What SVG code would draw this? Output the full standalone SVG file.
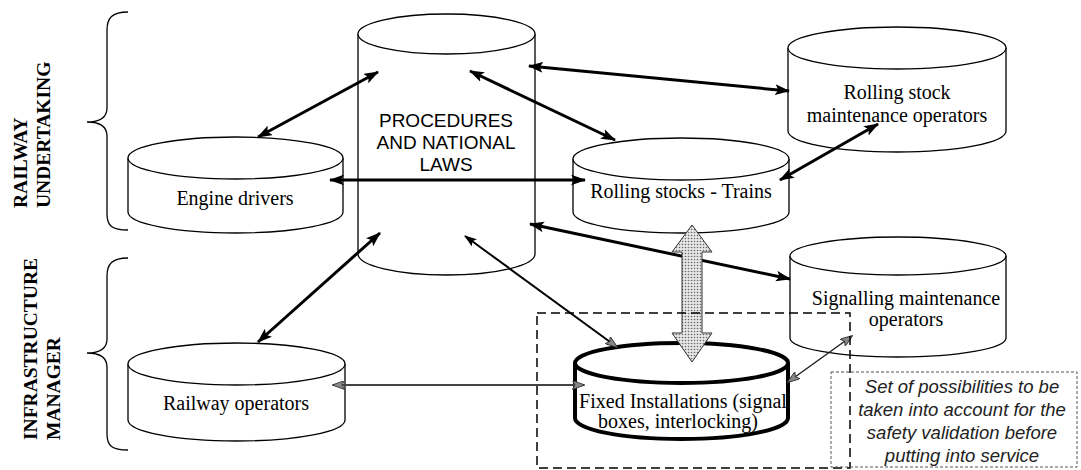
<svg xmlns="http://www.w3.org/2000/svg" width="1081" height="470" viewBox="0 0 1081 470">
<style>
.cyl{fill:#fff;stroke:#000;stroke-width:1.3}
.cylb{fill:#fff;stroke:#000;stroke-width:4}
.serif{font-family:"Liberation Serif","Times New Roman",serif;font-size:20px;fill:#000;text-anchor:middle}
.sans{font-family:"Liberation Sans",Arial,sans-serif;font-size:19px;fill:#000;text-anchor:middle}
.side{font-family:"Liberation Serif","Times New Roman",serif;font-size:19.5px;font-weight:bold;fill:#000}
.note{font-family:"Liberation Sans",Arial,sans-serif;font-size:18.5px;font-style:italic;fill:#222;text-anchor:middle}
.thick{stroke:#000;stroke-width:3;fill:none;marker-start:url(#ah);marker-end:url(#ah)}
.mid{stroke:#000;stroke-width:2;fill:none;marker-start:url(#ah2);marker-end:url(#ahg)}
.grey{stroke:#444;stroke-width:2;fill:none;marker-start:url(#ahg);marker-end:url(#ahg)}
.thin{stroke:#222;stroke-width:1.5;fill:none;marker-start:url(#ahg);marker-end:url(#ahg)}
.brace{fill:none;stroke:#000;stroke-width:1.3}
</style>
<defs>
<marker id="ah" viewBox="0 0 14 10" refX="13" refY="5" markerWidth="15" markerHeight="11" markerUnits="userSpaceOnUse" orient="auto-start-reverse"><path d="M0,0 L14,5 L0,10 L3,5 Z" fill="#000"/></marker>
<marker id="ah2" viewBox="0 0 14 10" refX="13" refY="5" markerWidth="13" markerHeight="9" markerUnits="userSpaceOnUse" orient="auto-start-reverse"><path d="M0,0 L14,5 L0,10 L3,5 Z" fill="#000"/></marker>
<marker id="ahg" viewBox="0 0 14 10" refX="13" refY="5" markerWidth="13" markerHeight="9" markerUnits="userSpaceOnUse" orient="auto-start-reverse"><path d="M0,0 L14,5 L0,10 L3,5 Z" fill="#888" stroke="#333" stroke-width="1"/></marker>
<pattern id="dots" width="3" height="3" patternUnits="userSpaceOnUse"><rect width="3" height="3" fill="#e6e6e6"/><circle cx="1.5" cy="1.5" r="0.8" fill="#666"/></pattern>
</defs>

<g id="braces">
<path class="brace" d="M128,12 C112,12 107,18 107,30 L107,108 C107,118 100,122 87,122 C100,122 107,126 107,136 L107,214 C107,226 112,230 128,230"/>
<path class="brace" d="M128,258 C112,258 107,264 107,276 L107,339 C107,349 100,353 87,353 C100,353 107,357 107,367 L107,434 C107,446 112,450 128,450"/>
</g>
<g id="labels">
<text class="side" transform="translate(27,208) rotate(-90)">RAILWAY</text>
<text class="side" transform="translate(50,208) rotate(-90)">UNDERTAKING</text>
<text class="side" transform="translate(37,440) rotate(-90)">INFRASTRUCTURE</text>
<text class="side" transform="translate(60,440) rotate(-90)">MANAGER</text>
</g>

<g id="procedures">
<path class="cyl" d="M358,34 L358,254 A88.5,21 0 0 0 535,254 L535,34"/>
<ellipse class="cyl" cx="446.5" cy="34" rx="88.5" ry="20"/>
<text class="sans" x="446" y="127">PROCEDURES</text>
<text class="sans" x="446" y="149">AND NATIONAL</text>
<text class="sans" x="446" y="171">LAWS</text>
</g>
<g id="engine-drivers">
<path class="cyl" d="M128,158 L128,212 A107.5,21 0 0 0 343,212 L343,158"/>
<ellipse class="cyl" cx="235.5" cy="158" rx="107.5" ry="21"/>
<text class="serif" x="235" y="205">Engine drivers</text>
</g>
<g id="rolling-stocks">
<path class="cyl" d="M573,159 L573,212 A108,21 0 0 0 789,212 L789,159"/>
<ellipse class="cyl" cx="681" cy="159" rx="108" ry="21"/>
<text class="serif" x="681" y="198">Rolling stocks - Trains</text>
</g>
<g id="rs-maintenance">
<path class="cyl" d="M788,48 L788,131 A109,21 0 0 0 1006,131 L1006,48"/>
<ellipse class="cyl" cx="897" cy="48" rx="109" ry="21"/>
<text class="serif" x="897" y="99">Rolling stock</text>
<text class="serif" x="897" y="122">maintenance operators</text>
</g>
<g id="signalling-maintenance">
<path class="cyl" d="M790,256 L790,338 A108,19 0 0 0 1006,338 L1006,256"/>
<ellipse class="cyl" cx="898" cy="256" rx="108" ry="19"/>
<text class="serif" x="906" y="305">Signalling maintenance</text>
<text class="serif" x="906" y="326">operators</text>
</g>
<g id="railway-operators">
<path class="cyl" d="M128,364 L128,420 A108.5,21 0 0 0 345,420 L345,364"/>
<ellipse class="cyl" cx="236.5" cy="364" rx="108.5" ry="21"/>
<text class="serif" x="236" y="410">Railway operators</text>
</g>
<g id="fixed-installations">
<path class="cylb" d="M575,363 L575,418 A106.5,21 0 0 0 788,418 L788,363"/>
<ellipse class="cylb" cx="681.5" cy="363" rx="106.5" ry="20"/>
<text class="serif" x="683" y="408">Fixed Installations (signal</text>
<text class="serif" x="678" y="428">boxes, interlocking)</text>
</g>

<g id="connectors">
<line class="thick" x1="258" y1="137" x2="378" y2="72"/>
<line class="thick" x1="330" y1="180" x2="585" y2="180"/>
<line class="thick" x1="470" y1="71" x2="615" y2="140"/>
<line class="thick" x1="529" y1="66" x2="789" y2="91"/>
<line class="thick" x1="780" y1="180" x2="878" y2="124"/>
<line class="thick" x1="530" y1="224" x2="790" y2="279"/>
<line class="thick" x1="380" y1="233" x2="258" y2="342"/>
<line class="mid" x1="465" y1="236" x2="617" y2="347"/>
<line class="grey" x1="333" y1="385" x2="584" y2="385"/>
<line class="thin" x1="788" y1="382" x2="852" y2="336"/>
<polygon points="692,225 712,252 702,252 702,333 712,333 692,362 672,333 682,333 682,252 672,252" fill="url(#dots)" stroke="#333" stroke-width="1"/>
</g>

<g id="validation-box">
<rect x="537" y="313" width="313" height="155" fill="none" stroke="#000" stroke-width="1.5" stroke-dasharray="9 5"/>
<rect x="831" y="372" width="246" height="95" fill="none" stroke="#555" stroke-width="1" stroke-dasharray="3 2"/>
<text class="note" x="962" y="393">Set of possibilities to be</text>
<text class="note" x="962" y="416">taken into account for the</text>
<text class="note" x="962" y="439">safety validation before</text>
<text class="note" x="962" y="462">putting into service</text>
</g>
</svg>
